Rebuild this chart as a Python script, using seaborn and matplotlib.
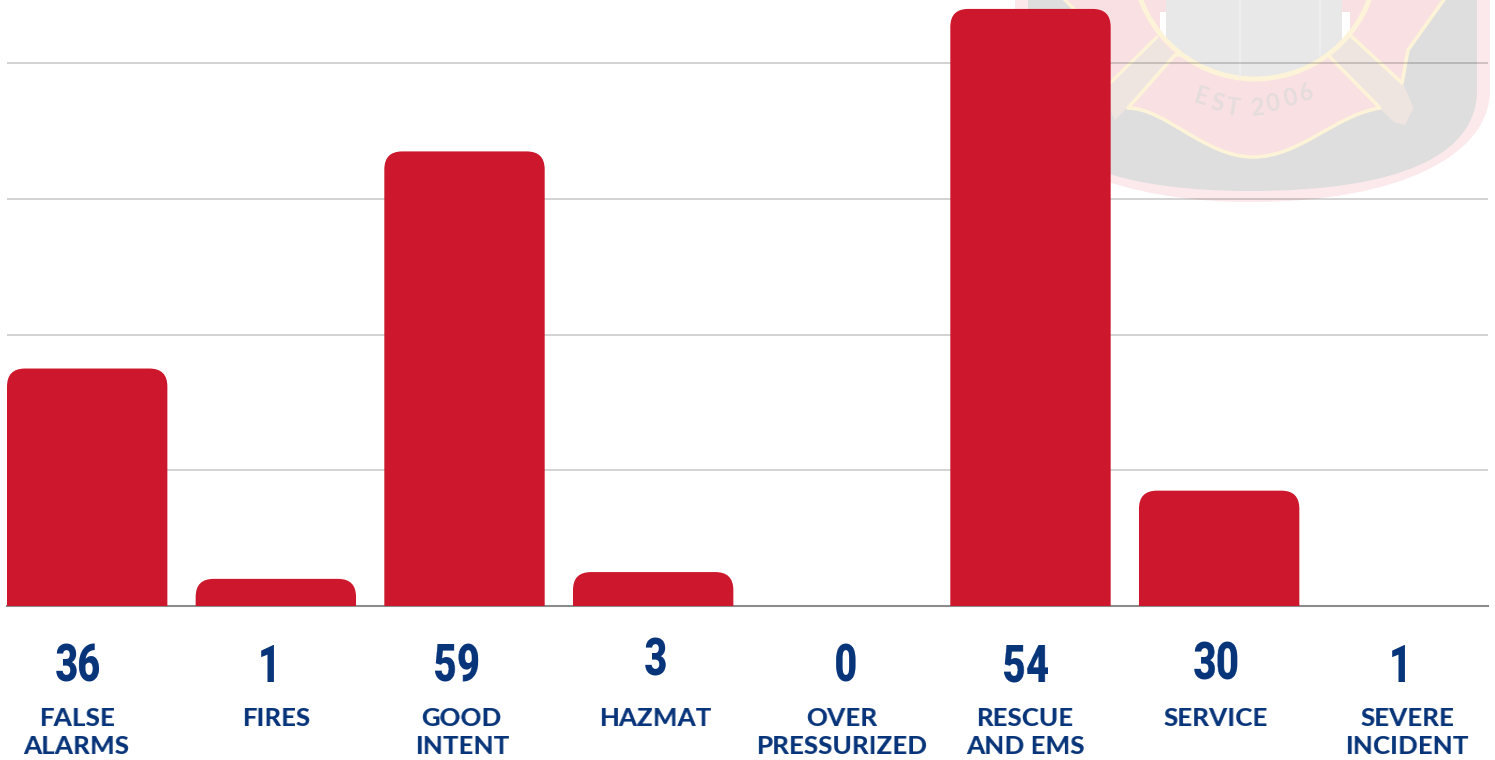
import matplotlib
matplotlib.use("Agg")
import matplotlib.pyplot as plt
from matplotlib.patches import FancyBboxPatch, PathPatch, Polygon, Circle
from matplotlib.path import Path
import numpy as np
import pandas as pd
import seaborn as sns

# values
categories = ["FALSE\nALARMS", "FIRES", "GOOD\nINTENT", "HAZMAT", "OVER\nPRESSURIZED",
              "RESCUE\nAND EMS", "SERVICE", "SEVERE\nINCIDENT"]
bar_heights = [35, 4, 67, 5, 0, 88, 17, 0]
count_labels = ["36", "1", "59", "3", "0", "54", "30", "1"]
grid_ticks = [20, 40, 60, 80]

# label placement, in reference pixels (count_y is the baseline)
count_x = [79, 270, 457, 656, 846, 1026, 1216, 1401]
count_y = [682, 682, 682, 676, 682, 682, 680, 682]
name_x = [77, 276, 462, 656, 842, 1025, 1216, 1407]

RED = "#cd172c"
NAVY = "#08357a"
PINK = "#f9e0e3"
CREAM = "#fdf3d8"
TAN = "#eee5e0"
W, H = 1495, 760

sns.set_theme(style="white")
fig = plt.figure(figsize=(W / 100, H / 100), dpi=100, facecolor="white")

# background layer in pixel coordinates: watermark and text
bg = fig.add_axes([0, 0, 1, 1], zorder=0)
bg.set_xlim(0, W)
bg.set_ylim(H, 0)
bg.axis("off")


def shield(left, right, bottom, color):
    pts = [(left, -5), (left, 90), (left, 165), (1130, bottom), (1250, bottom),
           (1400, bottom), (right, 155), (right, 90), (right, -5), (left, -5)]
    codes = [Path.MOVETO, Path.LINETO, Path.CURVE4, Path.CURVE4, Path.CURVE4,
             Path.CURVE4, Path.CURVE4, Path.CURVE4, Path.LINETO, Path.CLOSEPOLY]
    bg.add_patch(PathPatch(Path(pts, codes), fc=color, ec="none"))


shield(1015, 1490, 202, "#fbe9eb")
shield(1028, 1477, 191, "#dedede")

# maltese cross arms and poles
bg.add_patch(Polygon([(1063, -5), (1112, 80), (1175, 55), (1330, 55), (1402, 83),
                      (1408, 50), (1445, -5)], fc=PINK, ec="none"))
bg.add_patch(Polygon([(1175, 55), (1157, 37), (1100, 90), (1115, 120), (1128, 107)],
                     fc=TAN, ec="none"))
bg.add_patch(Polygon([(1328, 55), (1350, 35), (1402, 83), (1413, 108), (1405, 124),
                      (1395, 122), (1380, 108)], fc=TAN, ec=TAN, lw=1, joinstyle="round"))
bg.add_patch(Polygon([(1350, 35), (1402, 83), (1408, 50), (1445, -2)],
                     closed=False, fc="none", ec=CREAM, lw=2.6, joinstyle="round"))
bg.plot([1108, 1157], [85, 37], color=CREAM, lw=2.4)
bg.plot([1063, 1075], [-2, 10], color=CREAM, lw=2.4)

# banner
banner = [(1175, 55), (1128, 108),
          (1165, 108), (1205, 157), (1253, 157),
          (1300, 157), (1335, 115), (1380, 108),
          (1328, 55), (1175, 55)]
banner_codes = [Path.MOVETO, Path.LINETO, Path.CURVE4, Path.CURVE4, Path.CURVE4,
                Path.CURVE4, Path.CURVE4, Path.CURVE4, Path.LINETO, Path.CLOSEPOLY]
bg.add_patch(PathPatch(Path(banner, banner_codes), fc=PINK, ec=CREAM, lw=2.6,
                       joinstyle="round"))

# ring and tower
ring_clip = Circle((1255, -43), 120, transform=bg.transData)
inside = bg.add_patch(Polygon([(1160, 12), (1160, 90), (1350, 90), (1350, 12)],
                              fc="white", ec="none"))
inside.set_clip_path(ring_clip)
inside = bg.add_patch(Polygon([(1125, -5), (1125, 12), (1385, 12), (1385, -5)],
                              fc=PINK, ec="none"))
inside.set_clip_path(ring_clip)
tower = bg.add_patch(Polygon([(1166, -5), (1166, 90), (1342, 90), (1342, -5)],
                             fc="#e8e8e8", ec="none"))
tower.set_clip_path(ring_clip)
bg.add_patch(Circle((1255, -43), 122, fc="none", ec=CREAM, lw=3.6))
bg.plot([1240, 1240], [0, 77], color="#f0f0f0", lw=1.2)
bg.plot([1320, 1320], [0, 55], color="#f0f0f0", lw=1.2)

# curved motto on the banner
motto_chars = list("EST2006")
motto_x = [1201, 1217, 1233, 1257, 1273, 1290, 1306]
motto_y = [97, 103, 108, 108, 103, 98, 93]
motto_rot = [-16, -12, -8, 6, 10, 13, 17]
for ch, mx, my, rot in zip(motto_chars, motto_x, motto_y, motto_rot):
    bg.text(mx, my, ch, color="#e5dcdd", fontsize=17, fontweight="bold", family="Lato",
            rotation=rot, ha="center", va="center", rotation_mode="anchor")

# main axes lined up with the plot area
ax = fig.add_axes([7 / W, (H - 606) / H, 1481 / W, 606 / H], zorder=1)
ax.patch.set_visible(False)

df = pd.DataFrame({"category": categories, "height": bar_heights})
sns.barplot(data=df, x="category", y="height", color=RED, width=0.85, saturation=1, ax=ax)

ax.set_xlim(-0.425, 7.425)
ax.set_ylim(0, 606 / 135.7 * 20)
ax.set_yticks(grid_ticks)
ax.set_xticks([])
ax.set_xlabel("")
ax.set_ylabel("")
ax.tick_params(left=False, labelleft=False)
ax.set_axisbelow(True)
ax.grid(axis="y", color="black", alpha=0.2, lw=1.2)
for side in ["top", "left", "right"]:
    ax.spines[side].set_visible(False)
ax.spines["bottom"].set_color("#8c8c8c")
ax.spines["bottom"].set_linewidth(1.5)

# round the top corners of the bars
x_per_px = 1 / 188.6
y_per_px = 20 / 135.7
radius = 18 * x_per_px
aspect = y_per_px / x_per_px
for bar in list(ax.patches):
    x0, w, h = bar.get_x(), bar.get_width(), bar.get_height()
    bar.remove()
    if h <= 0:
        continue
    drop = radius * aspect
    ax.add_patch(FancyBboxPatch((x0, -drop), w, h + drop,
                                boxstyle=f"round,pad=0,rounding_size={radius}",
                                mutation_aspect=aspect, fc=RED, ec="none", zorder=3))


def scale_x(factor):
    # no condensed or tracked font is installed, so resize the drawn glyphs sideways
    def apply(img, dpi):
        h, w = img.shape[:2]
        new_w = max(int(round(w * factor)), 1)
        pos = np.linspace(0, w - 1, new_w)
        lo = np.floor(pos).astype(int)
        hi = np.minimum(lo + 1, w - 1)
        frac = (pos - lo)[None, :, None]
        return img[:, lo] * (1 - frac) + img[:, hi] * frac, (w - new_w) // 2, 0
    return apply


# counts and names under the bars
for label, x, y in zip(count_labels, count_x, count_y):
    t = bg.text(x, y, label, color=NAVY, fontsize=37, fontweight=900, ha="center",
                va="baseline", family="Roboto")
    t.set_agg_filter(scale_x(0.78))
for name, x in zip(categories, name_x):
    for i, line in enumerate(name.split("\n")):
        t = bg.text(x, 717 + 28 * i, line, color=NAVY, fontsize=17.5, fontweight=900,
                    ha="center", va="center_baseline", family="Lato")
        t.set_agg_filter(scale_x(1.07))

fig.savefig("out.png", dpi=100)
